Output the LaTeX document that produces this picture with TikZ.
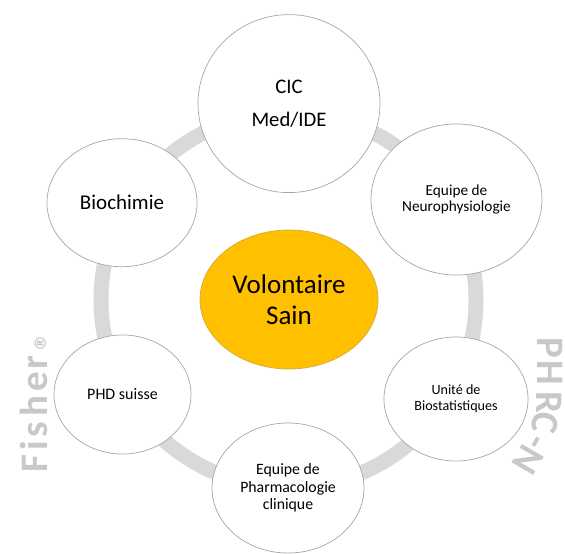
\documentclass[tikz,border=0pt]{standalone}
\usepackage{fontspec}
\setmainfont{Carlito}
\newfontfamily\symfont{DejaVu Sans}
\usetikzlibrary{shapes.geometric}
\definecolor{ringgray}{RGB}{217,217,217}
\definecolor{edgegray}{RGB}{166,166,166}
\definecolor{wmgray}{RGB}{200,200,200}
\definecolor{sainfill}{RGB}{255,192,0}
\definecolor{sainedge}{RGB}{214,170,60}
\tikzset{
  bubble/.style={ellipse, draw=edgegray, line width=0.7pt, fill=white, inner sep=0pt, align=center, text=black},
  wmletter/.style={text=wmgray, font=\bfseries\fontsize{39}{39}\selectfont, inner sep=0pt, anchor=base}
}
\begin{document}
\begin{tikzpicture}[x=1pt,y=-1pt]
\useasboundingbox (0,0) rectangle (565,554);
% ring
\draw[ringgray, line width=15pt] (288.5,300) circle [radius=187.5];
% watermark Fisher
\node[wmletter, rotate=90] (wF) at (47,464) {F};
\node[wmletter, rotate=90] (wi) at (47,446) {i};
\node[wmletter, rotate=90] (ws) at (47,430) {s};
\node[wmletter, rotate=90] (wh) at (47,406) {h};
\node[wmletter, rotate=90] (we) at (47,382) {e};
\node[wmletter, rotate=90] (wr) at (47,363) {r};
\node[wmletter, rotate=90, font=\symfont\bfseries\fontsize{16}{16}\selectfont] (wreg) at (46,343) {®};
% watermark PHRC-N
\node[wmletter, rotate=-90] (wP) at (537,348) {P};
\node[wmletter, rotate=-90] (wH) at (537,373) {H};
\node[wmletter, rotate=-90] (wR) at (536,402) {R};
\node[wmletter, rotate=-100] (wC) at (533,421) {C};
\node[wmletter, rotate=-120] (wdN) at (520,448) {-N};
% bubbles
\node[bubble, minimum width=182pt, minimum height=178pt, font=\fontsize{20.7}{33}\selectfont] (cic) at (289,103.6) {CIC\\Med/IDE};
\node[bubble, minimum width=150pt, minimum height=128pt, font=\fontsize{21}{25}\selectfont] (bio) at (122,202.7) {Biochimie};
\node[bubble, minimum width=171pt, minimum height=151pt, font=\fontsize{15.3}{17}\selectfont] (neuro) at (456.5,199.5) {Equipe de\\Neurophysiologie};
\node[bubble, minimum width=137pt, minimum height=119pt, font=\fontsize{16}{19}\selectfont] (phd) at (122.5,394.5) {PHD suisse};
\node[bubble, minimum width=144pt, minimum height=124pt, font=\fontsize{14.1}{15.8}\selectfont] (unite) at (456,399) {Unité de\\Biostatistiques};
\node[bubble, minimum width=152pt, minimum height=130pt, font=\fontsize{15.8}{17.5}\selectfont] (pharma) at (288,488) {Equipe de\\Pharmacologie\\clinique};
\node[ellipse, draw=sainedge, line width=0.7pt, fill=sainfill, inner sep=0pt, align=center, minimum width=178pt, minimum height=139pt, font=\fontsize{27}{30.6}\selectfont] (sain) at (289,299.5) {Volontaire\\Sain};
\end{tikzpicture}
\end{document}
